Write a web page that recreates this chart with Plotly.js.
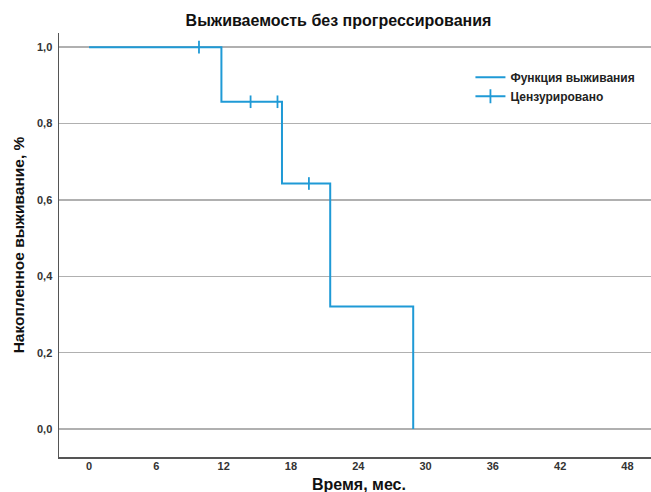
<!DOCTYPE html>
<html><head><meta charset="utf-8">
<script src="https://cdn.plot.ly/plotly-3.0.1.min.js"></script>
<style>body{margin:0;background:#fff}#c{width:651px;height:492px}</style>
</head><body><div id="c"></div>
<script>
// Kaplan-Meier step data (months, cumulative survival)
const stepTimes = [0, 11.8, 17.2, 21.5, 28.9];
const stepSurv  = [1.0, 0.857, 0.643, 0.321, 0.0];
const censorTimes = [9.8, 14.4, 16.8, 19.6];
const censorSurv  = [1.0, 0.857, 0.857, 0.643];
const xTicks = [0, 6, 12, 18, 24, 30, 36, 42, 48];
const yTicks = [0, 0.2, 0.4, 0.6, 0.8, 1.0];

const col = '#1f9ad6';

const traces = [
  {x: stepTimes, y: stepSurv, mode: 'lines', line: {shape: 'hv', color: col, width: 2},
   name: 'Функция выживания', showlegend: true, hoverinfo: 'skip'},
  {x: censorTimes, y: censorSurv, mode: 'markers', showlegend: false,
   marker: {symbol: 'line-ns-open', size: 9, color: col, line: {color: col, width: 1.8}}},
  {x: [null], y: [null], mode: 'lines+markers', name: 'Цензурировано',
   line: {color: col, width: 2},
   marker: {symbol: 'line-ns-open', size: 10, color: col, line: {color: col, width: 1.8}}}
];

const layout = {
  width: 651, height: 492,
  margin: {l: 59, r: 0, t: 33, b: 35},
  paper_bgcolor: '#fff', plot_bgcolor: '#fff',
  separators: ',.',
  font: {family: 'Liberation Sans, Arial, sans-serif', color: '#222'},
  title: {text: 'Выживаемость без прогрессирования', x: 0.52, xanchor: 'center', y: 0.958, yanchor: 'middle',
          font: {size: 16, color: '#111', weight: 'bold'}},
  xaxis: {range: [-2.68, 50.1], tickvals: xTicks, ticktext: xTicks.map(String),
          showgrid: false, zeroline: false, showline: true, linecolor: '#555', linewidth: 1.5,
          ticks: '', tickfont: {size: 11, color: '#333', weight: 'bold'}, ticklabelstandoff: -2,
          automargin: false},
  yaxis: {range: [-0.073, 1.037], tickvals: yTicks, tickformat: '.1f',
          showgrid: true, gridcolor: '#b0b0b0', gridwidth: 1.5, zeroline: false,
          showline: true, linecolor: '#555', linewidth: 1.5, ticks: '',
          tickfont: {size: 11, color: '#333', weight: 'bold'}, ticklabelstandoff: 3, automargin: false,
          title: {text: 'Накопленное выживание, %', font: {size: 15.5, color: '#111', weight: 'bold'}, standoff: 8}},
  annotations: [{text: 'Время, мес.', xref: 'paper', yref: 'paper', x: 0.507, y: -0.04,
                 xanchor: 'center', yanchor: 'top', showarrow: false,
                 font: {size: 16, color: '#111', weight: 'bold'}}],
  legend: {x: 0.695, y: 0.93, xanchor: 'left', yanchor: 'top', bgcolor: 'rgba(0,0,0,0)',
           font: {size: 12, color: '#222', weight: 'bold'}, tracegroupgap: 0, itemwidth: 30},
  showlegend: true
};
Plotly.newPlot('c', traces, layout, {displayModeBar: false, staticPlot: true});
</script></body></html>
